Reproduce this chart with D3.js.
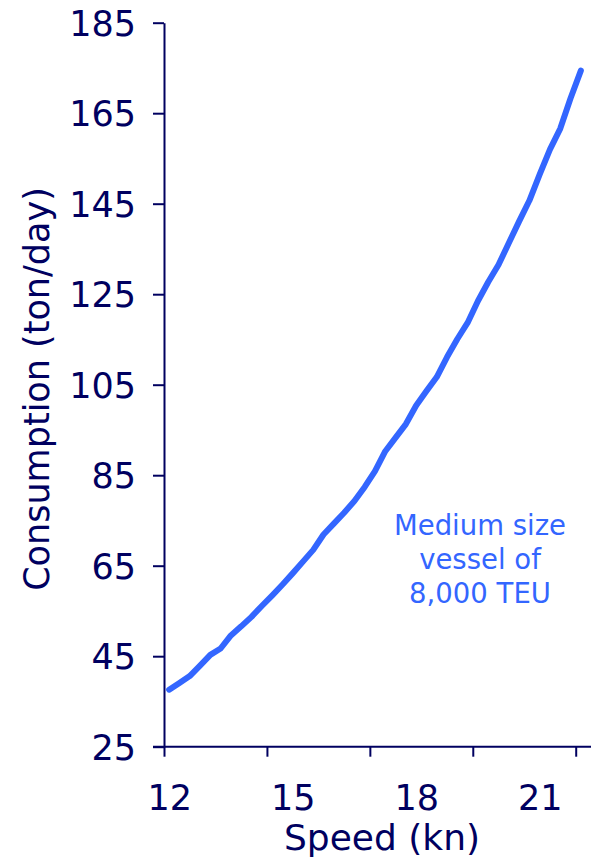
<!DOCTYPE html>
<html><head><meta charset="utf-8">
<script src="https://cdn.jsdelivr.net/npm/d3@7"></script>
<style>
html,body{margin:0;padding:0;background:#fff;}
svg{display:block;}
text{font-family:"DejaVu Sans",Verdana,sans-serif;}
</style></head>
<body>
<svg id="chart" width="591" height="859"></svg>
<script>
const speeds = [12,12.25,12.5,12.75,13,13.25,13.5,13.75,14,14.25,14.5,14.75,15,15.25,15.5,15.75,16,16.25,16.5,16.75,17,17.25,17.5,17.75,18,18.25,18.5,18.75,19,19.25,19.5,19.75,20,20.25,20.5,20.75,21,21.25,21.5,21.75,22];
const consumption = [37.6,39.1,40.6,42.9,45.3,46.7,49.6,51.6,53.7,56.1,58.4,60.8,63.3,65.9,68.5,71.9,74.3,76.7,79.3,82.4,85.9,90.3,93.3,96.3,100.4,103.6,106.7,111.1,115.1,118.7,123.5,127.7,131.5,136.3,141.1,145.7,151.5,157,161.6,168.3,174.4];
const yTicks = [25,45,65,85,105,125,145,165,185];
const xTickMarks = [11.875,14.375,16.875,19.375,21.875];
const xLabels = [12,15,18,21];
const yTitle = "Consumption (ton/day)";
const xTitle = "Speed (kn)";
const note = ["Medium size","vessel of","8,000 TEU"];

const axisColor = "#000060";
const lineColor = "#3366ff";

const svg = d3.select("#chart");
const x = d3.scaleLinear().domain([11.875, 22.125]).range([164, 586]);
const y = d3.scaleLinear().domain([25, 185]).range([746.7, 22.7]);

// Y axis
const gy = svg.append("g").attr("transform","translate(164,0)")
  .call(d3.axisLeft(y).tickValues(yTicks).tickSize(11).tickSizeOuter(0).tickPadding(17));
gy.selectAll("path.domain").attr("stroke",axisColor).attr("stroke-width",2);
gy.selectAll(".tick line").attr("stroke",axisColor).attr("stroke-width",2);
gy.selectAll(".tick text").attr("fill",axisColor).style("font-size","35px")
  .style("font-family",'"DejaVu Sans",Verdana,sans-serif').attr("dy","0.36em");

// X axis
const gx = svg.append("g").attr("transform","translate(0,746.7)")
  .call(d3.axisBottom(x).tickValues(xTickMarks).tickFormat("").tickSize(10).tickSizeOuter(0));
gx.select("path.domain").remove();
gx.selectAll(".tick line").attr("stroke",axisColor).attr("stroke-width",2);
svg.append("line").attr("x1",153).attr("x2",x.range()[1]+5).attr("y1",746.7).attr("y2",746.7)
  .attr("stroke",axisColor).attr("stroke-width",2);

const gxl = svg.append("g").attr("transform","translate(0,746.7)")
  .call(d3.axisBottom(x).tickValues(xLabels).tickFormat(d3.format("d")).tickSize(0));
gxl.select("path.domain").remove();
gxl.selectAll(".tick text").attr("fill",axisColor).style("font-size","35px")
  .style("font-family",'"DejaVu Sans",Verdana,sans-serif').attr("dy",null).attr("y",63);

// Titles
svg.append("text").attr("x",382).attr("y",850).attr("text-anchor","middle")
  .attr("fill",axisColor).style("font-size","36px").text(xTitle);
svg.append("text").attr("transform","translate(49,389) rotate(-90)").attr("text-anchor","middle")
  .attr("fill",axisColor).style("font-size","35px").text(yTitle);

// Line
const line = d3.line().x((d,i)=>x(speeds[i])).y(d=>y(d));
svg.append("path").datum(consumption).attr("d",line).attr("fill","none")
  .attr("stroke",lineColor).attr("stroke-width",6).attr("stroke-linecap","round").attr("stroke-linejoin","round");

// Annotation
svg.append("g").selectAll("text").data(note).join("text")
  .attr("x",480).attr("y",(d,i)=>535+i*34).attr("text-anchor","middle")
  .attr("fill",lineColor).style("font-size","27.5px").text(d=>d);
</script>
</body></html>
